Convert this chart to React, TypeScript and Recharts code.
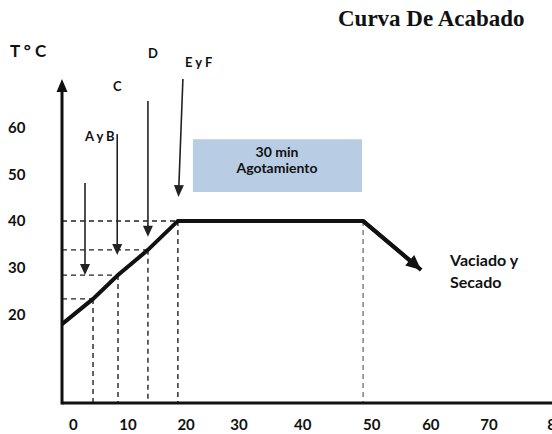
import React from 'react';
import { ComposedChart, Line, XAxis, YAxis, ReferenceLine, ReferenceArea } from 'recharts';

// Finishing curve: time (min) vs temperature (°C)
const curveTime = [-2, 3.45, 7.84, 13.1, 18.36, 50.9, 61.1];
const curveTemp = [17.9, 23.3, 28.4, 33.8, 40, 40, 29.5];

// points projected onto the axes with dashed guides
const markTime = [3.45, 7.84, 13.1, 18.36];
const markTemp = [23.3, 28.4, 33.8, 40];
const plateauEnd = 50.9;

// dosing arrows (A y B, C, D) pointing down onto the ramp
const dropTime = [2.04, 7.7, 13.1];
const dropFrom = [48.1, 58.6, 65.7];
const dropTo = [28.4, 32.7, 36.6];
const efFrom = { x: 19.24, y: 70.4 };
const efTo = { x: 18.46, y: 45.1 };

const boxTime = [21.0, 50.7];
const boxTemp = [46.2, 57.5];

const xTickPos = [0, 9.6, 19.8, 29.1, 40.3, 52.4, 62.8, 73, 84.8];
const xTickLabels = ['0', '10', '20', '30', '40', '50', '60', '70', '80'];
const yTicks = [20, 30, 40, 50, 60];

const X_DOMAIN: [number, number] = [-2, 87.6];
const Y_DOMAIN: [number, number] = [1, 70.4];

const FONT = 'Lato, "Open Sans", sans-serif';
const INK = '#111';

const curveData = curveTime.map((t, i) => ({ time: t, temp: curveTemp[i] }));

const Arrow = (props: any) => {
  const { x1, y1, x2, y2, color = INK, sw = 1.6, head = 11, hw = 10 } = props;
  const dx = x2 - x1;
  const dy = y2 - y1;
  const len = Math.hypot(dx, dy) || 1;
  const ux = dx / len;
  const uy = dy / len;
  const bx = x2 - ux * head;
  const by = y2 - uy * head;
  const px = -uy * (hw / 2);
  const py = ux * (hw / 2);
  return (
    <g>
      <line x1={x1} y1={y1} x2={bx + ux} y2={by + uy} stroke={color} strokeWidth={sw} />
      <polygon points={`${x2},${y2} ${bx + px},${by + py} ${bx - px},${by - py}`} fill={color} />
    </g>
  );
};

const XTick = (props: any) => {
  const { x, payload, index } = props;
  return (
    <text x={x} y={430} textAnchor="middle" fontFamily={FONT} fontWeight={700} fontSize={15} fill={INK}>
      {xTickLabels[index] ?? payload.value}
    </text>
  );
};

const YTick = (props: any) => {
  const { y, payload } = props;
  return (
    <text x={8} y={y} dy="0.36em" textAnchor="start" fontFamily={FONT} fontWeight={700} fontSize={15} fill={INK}>
      {payload.value}
    </text>
  );
};

const dash = { stroke: '#222', strokeWidth: 1.4, strokeDasharray: '5 4' };

export default function App() {
  const label = { fontFamily: FONT, fontWeight: 700, fontSize: 13, fill: INK } as const;
  return (
    <div style={{ position: 'relative', width: 552, height: 434, overflow: 'hidden', background: '#fff' }}>
      <style>{'body{margin:0}'}</style>
      <ComposedChart width={572} height={434} data={curveData} margin={{ top: 79, right: 0, bottom: 0, left: 0 }}>
        <XAxis
          dataKey="time"
          type="number"
          domain={X_DOMAIN}
          ticks={xTickPos}
          interval={0}
          allowDataOverflow
          height={31}
          tickLine={false}
          tickSize={0}
          axisLine={{ stroke: INK, strokeWidth: 3 }}
          tick={<XTick />}
        />
        <YAxis
          type="number"
          domain={Y_DOMAIN}
          ticks={yTicks}
          allowDataOverflow
          width={62}
          axisLine={false}
          tickLine={false}
          tick={<YTick />}
        />

        <ReferenceArea
          x1={boxTime[0]}
          x2={boxTime[1]}
          y1={boxTemp[0]}
          y2={boxTemp[1]}
          fill="#b8cce4"
          fillOpacity={1}
          stroke="none"
          ifOverflow="visible"
        />

        {markTemp.map((t, i) => (
          <ReferenceLine
            key={`h${i}`}
            segment={[{ x: X_DOMAIN[0], y: t }, { x: markTime[i], y: t }]}
            {...dash}
            ifOverflow="visible"
          />
        ))}
        {markTime.map((m, i) => (
          <ReferenceLine
            key={`v${i}`}
            segment={[{ x: m, y: markTemp[i] }, { x: m, y: Y_DOMAIN[0] }]}
            {...dash}
            ifOverflow="visible"
          />
        ))}
        <ReferenceLine
          segment={[{ x: plateauEnd, y: 40 }, { x: plateauEnd, y: Y_DOMAIN[0] }]}
          {...dash}
          stroke="#777"
          ifOverflow="visible"
        />

        {dropTime.map((t, i) => (
          <ReferenceLine
            key={`a${i}`}
            segment={[{ x: t, y: dropFrom[i] }, { x: t, y: dropTo[i] }]}
            ifOverflow="visible"
            shape={(p: any) => <Arrow {...p} color="#222" sw={1.6} head={11} hw={10} />}
          />
        ))}
        <ReferenceLine
          segment={[efFrom, efTo]}
          ifOverflow="visible"
          shape={(p: any) => <Arrow {...p} color="#222" sw={1.6} head={12} hw={10} />}
        />

        {/* vertical axis with arrow head */}
        <ReferenceLine
          segment={[{ x: X_DOMAIN[0], y: Y_DOMAIN[0] - 0.3 }, { x: X_DOMAIN[0], y: Y_DOMAIN[1] }]}
          ifOverflow="visible"
          shape={(p: any) => <Arrow {...p} color={INK} sw={3} head={13} hw={11} />}
        />

        <Line
          type="linear"
          dataKey="temp"
          stroke={INK}
          strokeWidth={4}
          strokeLinejoin="miter"
          dot={false}
          activeDot={false}
          isAnimationActive={false}
        />
        <ReferenceLine
          segment={[
            { x: curveTime[5], y: curveTemp[5] },
            { x: curveTime[6], y: curveTemp[6] },
          ]}
          ifOverflow="visible"
          shape={(p: any) => <Arrow {...p} color={INK} sw={4} head={15} hw={14} />}
        />
      </ComposedChart>

      <svg width={552} height={434} style={{ position: 'absolute', left: 0, top: 0, pointerEvents: 'none' }}>
        <text x={338} y={26} fontFamily='"Liberation Serif", "Times New Roman", serif' fontWeight={700} fontSize={23} fill={INK}>
          Curva De Acabado
        </text>
        <text x={10} y={57} fontFamily={FONT} fontWeight={700} fontSize={17} fill={INK}>
          T ° C
        </text>
        <text x={148} y={58} {...label}>D</text>
        <text x={113} y={91} {...label}>C</text>
        <text x={185} y={67} {...label}>E y F</text>
        <text x={85} y={141} {...label}>A y B</text>
        <text x={277} y={157} textAnchor="middle" {...label} fontSize={14}>30 min</text>
        <text x={277} y={173} textAnchor="middle" {...label} fontSize={14}>Agotamiento</text>
        <text x={450} y={266} {...label} fontSize={16}>Vaciado y</text>
        <text x={450} y={288} {...label} fontSize={16}>Secado</text>
      </svg>
    </div>
  );
}
